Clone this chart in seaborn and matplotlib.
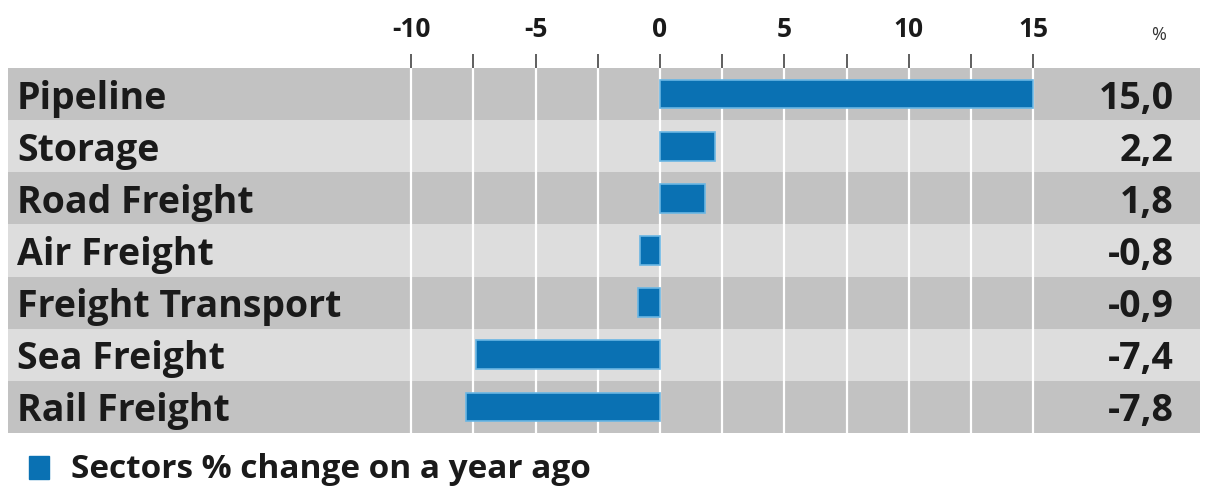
import matplotlib
matplotlib.use("Agg")
import matplotlib.pyplot as plt
import seaborn as sns
import pandas as pd
import numpy as np

sectors = ["Pipeline", "Storage", "Road Freight", "Air Freight",
           "Freight Transport", "Sea Freight", "Rail Freight"]
changes = [15.0, 2.2, 1.8, -0.8, -0.9, -7.4, -7.8]
value_labels = ["15,0", "2,2", "1,8", "-0,8", "-0,9", "-7,4", "-7,8"]
tick_values = [-10, -7.5, -5, -2.5, 0, 2.5, 5, 7.5, 10, 12.5, 15]
tick_labels = ["-10", "", "-5", "", "0", "", "5", "", "10", "", "15"]
legend_label = "Sectors % change on a year ago"

sns.set_theme(style="white")
plt.rcParams["font.family"] = ["Open Sans", "DejaVu Sans"]

df = pd.DataFrame({"sector": sectors, "change": changes})

W, H = 1209, 487
fig = plt.figure(figsize=(W / 100, H / 100), dpi=100)
fig.patch.set_facecolor("white")

# axes spans pixel x 8..1200, y 68..433
ax = fig.add_axes([8 / W, (H - 433) / H, 1192 / W, 365 / H])
ppu = 24.87
x0px = 660
ax.set_xlim((8 - x0px) / ppu, (1200 - x0px) / ppu)

n = len(sectors)
for i in range(n):
    ax.axhspan(i - 0.5, i + 0.5, color="#c2c2c2" if i % 2 == 0 else "#dddddd",
               lw=0, zorder=0)
for t in tick_values:
    ax.axvline(t, color="white", lw=1.6, zorder=1)

sns.barplot(data=df, y="sector", x="change", orient="h", color="#0a71b3",
            width=0.55, saturation=1, edgecolor="#6ab6e4", linewidth=1.2,
            ax=ax, zorder=3)
ax.set_ylim(n - 0.5, -0.5)

xl = ax.get_xlim()
for i, (s, v) in enumerate(zip(sectors, value_labels)):
    ax.text(xl[0] + 0.36, i, s, ha="left", va="center_baseline", fontsize=27,
            fontweight="bold", color="#1a1a1a", zorder=4)
    ax.text(xl[1] - 1.05, i, v, ha="right", va="center_baseline", fontsize=27,
            fontweight="bold", color="#1a1a1a", zorder=4)

ax.xaxis.tick_top()
ax.set_xticks(tick_values)
ax.set_xticklabels(tick_labels, fontsize=19, fontweight="bold", color="#1a1a1a")
ax.tick_params(axis="x", direction="out", length=10, width=1.2, color="#444444",
               pad=8, top=True, bottom=False)
ax.set_yticks([])
ax.set_xlabel("")
ax.set_ylabel("")
for sp in ax.spines.values():
    sp.set_visible(False)

fig.text(1159 / W, 1 - 35 / H, "%", ha="center", va="center", fontsize=13,
         color="#333333")

# legend
fig.patches.append(plt.Rectangle((29 / W, 1 - 479 / H), 20 / W, 23 / H,
                                 transform=fig.transFigure, color="#0a71b3"))
fig.text(71 / W, 1 - 478 / H, legend_label, ha="left", va="baseline",
         fontsize=24, fontweight="bold", color="#1a1a1a")

fig.savefig("out.png", dpi=100)
